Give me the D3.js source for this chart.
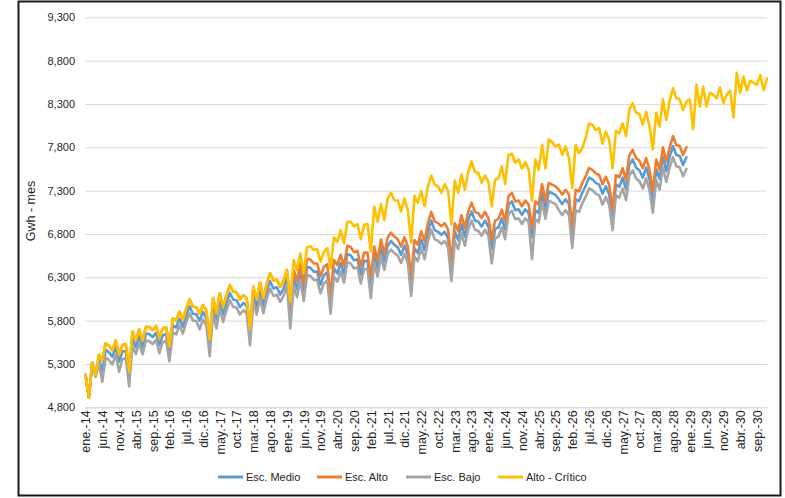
<!DOCTYPE html>
<html>
<head>
<meta charset="utf-8">
<script src="https://cdn.jsdelivr.net/npm/d3@7"></script>
<style>
  html, body { margin: 0; padding: 0; background: #fff; }
  svg { display: block; font-family: "Liberation Sans", Arial, sans-serif; }
</style>
</head>
<body>
<svg id="chart" width="785" height="498"></svg>
<script>
// Monthly demand projection (GWh per month), ene-14 .. dic-30
const months = ["ene.", "feb.", "mar.", "abr.", "may.", "jun.", "jul.", "ago.", "sep.", "oct.", "nov.", "dic."];
const years = ["14", "15", "16", "17", "18", "19", "20", "21", "22", "23", "24", "25", "26", "27", "28", "29", "30"];
const yTicks = [4800, 5300, 5800, 6300, 6800, 7300, 7800, 8300, 8800, 9300];

const altoCritico = [
  5175, 4910, 5315, 5175, 5405, 5345, 5540, 5510, 5460, 5570, 5405, 5520,
  5530, 5210, 5675, 5575, 5700, 5570, 5730, 5725, 5690, 5740, 5595, 5710,
  5725, 5500, 5825, 5800, 5905, 5810, 5940, 6045, 5960, 5955, 5885, 5980,
  5915, 5585, 6060, 5885, 6115, 5960, 6095, 6210, 6135, 6125, 6045, 6095,
  6060, 5700, 6190, 6045, 6240, 6060, 6230, 6345, 6260, 6275, 6190, 6260,
  6385, 6020, 6500, 6385, 6575, 6345, 6645, 6660, 6615, 6625, 6480, 6595,
  6635, 6405, 6760, 6710, 6845, 6690, 6940, 6940, 6890, 6915, 6740, 6905,
  6915, 6595, 7115, 6940, 7145, 6960, 7210, 7275, 7190, 7185, 7060, 7210,
  7075, 6700, 7240, 7160, 7295, 7120, 7350, 7475, 7370, 7350, 7275, 7375,
  7300, 6910, 7415, 7275, 7485, 7310, 7515, 7640, 7515, 7505, 7390, 7475,
  7400, 7120, 7425, 7440, 7580, 7375, 7715, 7725, 7620, 7660, 7555, 7630,
  7540, 7185, 7660, 7540, 7830, 7555, 7890, 7860, 7810, 7830, 7715, 7810,
  7675, 7330, 7825, 7735, 7790, 7910, 8075, 8060, 8000, 8020, 7840, 7980,
  7885, 7560, 7990, 7960, 8075, 7930, 8240, 8310, 8200, 8185, 8060, 8210,
  8040, 7775, 8200, 8040, 8355, 8115, 8340, 8480, 8365, 8355, 8230, 8325,
  8355, 8010, 8520, 8270, 8500, 8270, 8430, 8405, 8365, 8490, 8310, 8405,
  8455, 8145, 8660, 8430, 8615, 8455, 8570, 8545, 8520, 8635, 8460, 8595
];

const escAlto = [
  5175, 4910, 5315, 5175, 5405, 5345, 5540, 5510, 5460, 5570, 5405, 5520,
  5530, 5210, 5675, 5575, 5700, 5570, 5730, 5725, 5690, 5740, 5595, 5710,
  5725, 5500, 5825, 5800, 5905, 5810, 5940, 6045, 5960, 5955, 5885, 5980,
  5915, 5585, 6060, 5885, 6115, 5960, 6095, 6210, 6135, 6125, 6045, 6095,
  6060, 5700, 6190, 6045, 6240, 6060, 6230, 6345, 6260, 6275, 6190, 6260,
  6385, 5945, 6385, 6260, 6460, 6220, 6515, 6505, 6460, 6460, 6310, 6420,
  6450, 6080, 6500, 6440, 6560, 6430, 6665, 6650, 6590, 6605, 6425, 6585,
  6585, 6290, 6655, 6500, 6735, 6575, 6760, 6815, 6770, 6740, 6655, 6760,
  6655, 6300, 6730, 6675, 6830, 6715, 6925, 7055, 6945, 6925, 6890, 6925,
  6850, 6485, 6925, 6830, 7015, 6870, 7060, 7160, 7055, 7040, 6985, 7055,
  6985, 6735, 6955, 6975, 7080, 6945, 7235, 7275, 7175, 7185, 7120, 7185,
  7140, 6870, 7175, 7140, 7375, 7180, 7390, 7370, 7350, 7310, 7255, 7310,
  7255, 6870, 7310, 7290, 7390, 7465, 7560, 7540, 7500, 7480, 7375, 7460,
  7365, 7075, 7480, 7455, 7560, 7425, 7710, 7770, 7675, 7645, 7560, 7675,
  7540, 7290, 7660, 7545, 7800, 7635, 7800, 7930, 7825, 7815, 7710, 7800
];

const escMedio = [
  5175, 4910, 5310, 5165, 5360, 5215, 5465, 5435, 5385, 5495, 5325, 5445,
  5450, 5120, 5595, 5495, 5620, 5490, 5650, 5645, 5610, 5660, 5515, 5630,
  5645, 5410, 5745, 5720, 5825, 5730, 5860, 5965, 5880, 5875, 5800, 5900,
  5825, 5485, 5970, 5795, 6025, 5870, 6005, 6120, 6045, 6035, 5955, 6005,
  5970, 5600, 6100, 5955, 6150, 5970, 6140, 6255, 6170, 6185, 6100, 6170,
  6295, 5845, 6290, 6165, 6365, 6125, 6420, 6410, 6365, 6365, 6215, 6325,
  6355, 5980, 6405, 6345, 6465, 6335, 6570, 6555, 6495, 6510, 6330, 6490,
  6490, 6185, 6560, 6405, 6640, 6480, 6665, 6720, 6675, 6645, 6560, 6665,
  6560, 6190, 6635, 6580, 6735, 6615, 6825, 6955, 6845, 6825, 6790, 6825,
  6750, 6375, 6825, 6730, 6915, 6770, 6960, 7060, 6955, 6940, 6885, 6955,
  6885, 6625, 6855, 6875, 6980, 6845, 7135, 7175, 7075, 7085, 7020, 7085,
  7040, 6760, 7075, 7040, 7275, 7080, 7290, 7270, 7250, 7200, 7145, 7200,
  7145, 6750, 7200, 7180, 7280, 7355, 7450, 7430, 7390, 7370, 7265, 7350,
  7255, 6960, 7370, 7345, 7450, 7315, 7600, 7660, 7565, 7535, 7450, 7565,
  7430, 7175, 7550, 7435, 7690, 7525, 7690, 7815, 7710, 7700, 7595, 7685
];

const escBajo = [
  5175, 4910, 5300, 5150, 5310, 5095, 5375, 5345, 5295, 5405, 5210, 5355,
  5370, 5040, 5515, 5415, 5540, 5410, 5570, 5565, 5530, 5580, 5425, 5550,
  5565, 5330, 5665, 5640, 5745, 5650, 5780, 5885, 5800, 5795, 5700, 5815,
  5740, 5390, 5885, 5710, 5940, 5785, 5920, 6035, 5960, 5950, 5870, 5920,
  5885, 5515, 6015, 5870, 6065, 5885, 6055, 6170, 6085, 6100, 6015, 6085,
  6210, 5710, 6195, 6070, 6270, 6025, 6325, 6315, 6270, 6270, 6115, 6230,
  6260, 5880, 6310, 6250, 6370, 6240, 6475, 6460, 6400, 6415, 6230, 6395,
  6395, 6060, 6465, 6310, 6545, 6385, 6570, 6620, 6580, 6550, 6465, 6570,
  6465, 6085, 6540, 6485, 6640, 6510, 6720, 6850, 6740, 6720, 6685, 6720,
  6645, 6255, 6720, 6625, 6810, 6665, 6855, 6955, 6850, 6835, 6780, 6850,
  6780, 6460, 6750, 6770, 6875, 6740, 7030, 7070, 6970, 6980, 6915, 6980,
  6935, 6510, 6970, 6935, 7170, 6975, 7185, 7165, 7145, 7075, 7020, 7075,
  7020, 6640, 7075, 7055, 7155, 7230, 7325, 7305, 7265, 7245, 7140, 7225,
  7130, 6845, 7245, 7220, 7325, 7190, 7475, 7535, 7440, 7410, 7325, 7440,
  7305, 7045, 7425, 7310, 7565, 7400, 7565, 7685, 7580, 7570, 7465, 7550
];

const seriesNames = ["Esc. Medio", "Esc. Alto", "Esc. Bajo", "Alto - Crítico"];
const seriesColors = ["#5B9BD5", "#ED7D31", "#A5A5A5", "#FFC000"];

// Category labels "ene.-14", "feb.-14", ...
const categories = [];
years.forEach(y => months.forEach(m => categories.push(m + "-" + y)));

const series = [escMedio, escAlto, escBajo, altoCritico].map((values, k) => ({
  name: seriesNames[k],
  color: seriesColors[k],
  points: values.map((v, i) => ({ cat: categories[i], value: v }))
}));

const svg = d3.select("#chart");
const plotLeft = 85, plotRight = 767, plotTop = 17.3, plotBottom = 407.3;

const x = d3.scalePoint().domain(categories).range([plotLeft + 0.5, plotRight]);
const y = d3.scaleLinear().domain([4800, 9300]).range([plotBottom, plotTop]);

// Outer frame
svg.append("rect")
  .attr("x", 18.5).attr("y", 1.5).attr("width", 762).attr("height", 494)
  .attr("fill", "#fff").attr("stroke", "#1a1a1a").attr("stroke-width", 2);

// Horizontal gridlines and value labels
const yAxis = svg.append("g")
  .attr("transform", `translate(${plotLeft},0)`)
  .call(d3.axisLeft(y).tickValues(yTicks).tickSize(-(plotRight - plotLeft)).tickPadding(10).tickFormat(d3.format(",")));
yAxis.select(".domain").remove();
yAxis.selectAll(".tick line").attr("stroke", "#D9D9D9").attr("stroke-width", 1);
yAxis.selectAll(".tick text").attr("fill", "#262626").style("font-size", "11px");

// Category axis, labelled every five months
const xTickValues = categories.filter((c, i) => i % 5 === 0);
const xAxis = svg.append("g")
  .attr("transform", `translate(0,${plotBottom})`)
  .call(d3.axisBottom(x).tickValues(xTickValues).tickSize(5).tickSizeOuter(0));
xAxis.select(".domain").attr("stroke", "#D9D9D9");
xAxis.selectAll(".tick line").attr("stroke", "#D9D9D9");
xAxis.selectAll(".tick text")
  .attr("transform", "rotate(-90)")
  .attr("x", -3).attr("y", 0).attr("dy", "0.35em")
  .style("text-anchor", "end")
  .style("font-size", "12.5px")
  .attr("fill", "#262626");

// Axis title
svg.append("text")
  .attr("transform", "translate(35,211) rotate(-90)")
  .attr("text-anchor", "middle")
  .style("font-size", "12.5px")
  .attr("fill", "#262626")
  .text("Gwh - mes");

// Series lines
const line = d3.line()
  .x(d => x(d.cat))
  .y(d => y(d.value));

svg.append("g").selectAll("path")
  .data(series)
  .join("path")
  .attr("d", d => line(d.points))
  .attr("fill", "none")
  .attr("stroke", d => d.color)
  .attr("stroke-width", 2.6)
  .attr("stroke-linejoin", "round")
  .attr("stroke-linecap", "round");

// Legend
const legendX = [218, 317, 406, 498];
const legend = svg.append("g").attr("transform", "translate(0,477)");
series.forEach((s, k) => {
  const g = legend.append("g").attr("transform", `translate(${legendX[k]},0)`);
  g.append("line").attr("x1", 0).attr("x2", 25).attr("y1", 0).attr("y2", 0)
    .attr("stroke", s.color).attr("stroke-width", 3);
  g.append("text").attr("x", 28).attr("y", 0).attr("dy", "0.35em")
    .style("font-size", "11px").attr("fill", "#262626").text(s.name);
});
</script>
</body>
</html>
